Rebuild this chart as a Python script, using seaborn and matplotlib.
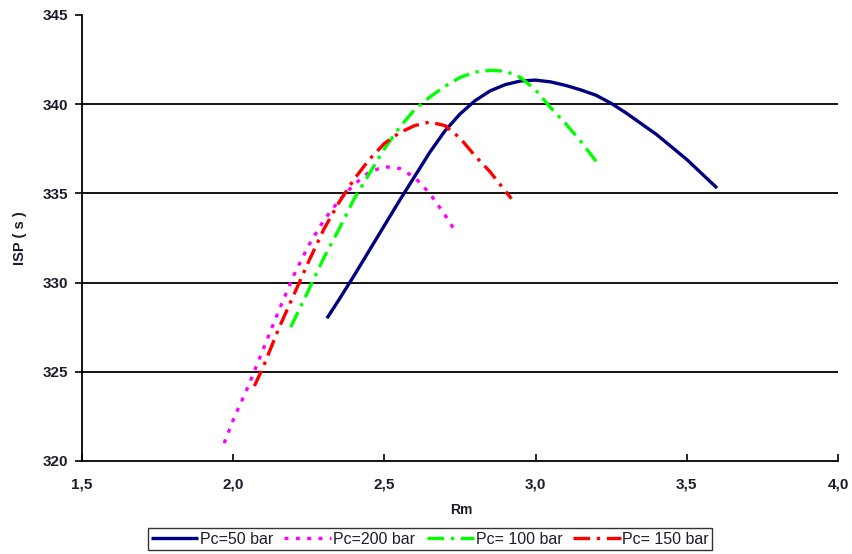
import matplotlib
matplotlib.use("Agg")
import matplotlib.pyplot as plt
import matplotlib.ticker as mticker
import seaborn as sns
import pandas as pd

# Specific impulse vs mixture ratio for four chamber pressures
rm_50 = [2.31, 2.35, 2.4, 2.45, 2.5, 2.55, 2.6, 2.65, 2.7, 2.75, 2.8, 2.85, 2.9, 2.95,
         3.0, 3.05, 3.1, 3.15, 3.2, 3.25, 3.3, 3.35, 3.4, 3.45, 3.5, 3.55, 3.6]
isp_50 = [328.0, 329.05, 330.4, 331.8, 333.2, 334.6, 335.95, 337.3, 338.5, 339.45, 340.2, 340.75, 341.1, 341.3,
          341.35, 341.25, 341.05, 340.8, 340.5, 340.05, 339.5, 338.9, 338.3, 337.6, 336.9, 336.1, 335.3]

rm_200 = [1.97, 2.0, 2.05, 2.1, 2.15, 2.2, 2.25, 2.3, 2.35, 2.4, 2.45, 2.5, 2.55, 2.6,
          2.65, 2.7, 2.73]
isp_200 = [321.0, 322.3, 324.2, 326.3, 328.4, 330.4, 332.1, 333.5, 334.6, 335.5, 336.2, 336.5, 336.4, 335.9,
           335.0, 333.8, 333.0]

rm_100 = [2.19, 2.25, 2.3, 2.35, 2.4, 2.45, 2.5, 2.55, 2.6, 2.65, 2.7, 2.75, 2.8, 2.85,
          2.9, 2.95, 3.0, 3.05, 3.1, 3.15, 3.2]
isp_100 = [327.5, 329.6, 331.4, 333.0, 334.7, 336.1, 337.5, 338.7, 339.7, 340.4, 341.0, 341.5, 341.8, 341.9,
           341.85, 341.5, 340.8, 339.8, 338.9, 337.9, 336.8]

rm_150 = [2.07, 2.1, 2.15, 2.2, 2.25, 2.3, 2.35, 2.4, 2.45, 2.5, 2.55, 2.6, 2.65, 2.7,
          2.75, 2.8, 2.85, 2.92]
isp_150 = [324.2, 325.3, 327.4, 329.3, 331.2, 333.0, 334.5, 335.8, 336.9, 337.8, 338.4, 338.8, 339.0, 338.8,
           338.1, 337.1, 336.2, 334.7]

labels = ["Pc=50 bar", "Pc=200 bar", "Pc= 100 bar", "Pc= 150 bar"]
colors = ["#000080", "#FF00FF", "#00FF00", "#FF0000"]
dash_styles = [None, (1.2, 2.2), (5.0, 2.0, 1.0, 2.0), (5.0, 2.0, 1.0, 2.0)]

sns.set_theme(style="white")
plt.rcParams["font.family"] = ["Liberation Sans", "DejaVu Sans"]

fig = plt.figure(figsize=(8.53, 5.54), dpi=100)
ax = fig.add_axes([82 / 853, 1 - 461 / 554, (838 - 82) / 853, (461 - 15) / 554])

series = [(rm_50, isp_50), (rm_200, isp_200), (rm_100, isp_100), (rm_150, isp_150)]
handles = []
for (xs, ys), lab, col, dsh in zip(series, labels, colors, dash_styles):
    df = pd.DataFrame({"Rm": xs, "ISP": ys})
    sns.lineplot(data=df, x="Rm", y="ISP", ax=ax, color=col, lw=2.4,
                 sort=False, estimator=None, label=lab, legend=False)
    line = ax.lines[-1]
    if dsh is not None:
        line.set_dashes(dsh)
    line.set_solid_capstyle("butt")
    line.set_dash_capstyle("butt")
    line.set_solid_joinstyle("round")
    handles.append(line)

ax.set_xlim(1.5, 4.0)
ax.set_ylim(320, 345)
ax.xaxis.set_major_locator(mticker.MultipleLocator(0.5))
ax.yaxis.set_major_locator(mticker.MultipleLocator(5))
ax.xaxis.set_major_formatter(mticker.FuncFormatter(lambda v, p: f"{v:.1f}".replace(".", ",")))
ax.yaxis.set_major_formatter(mticker.FuncFormatter(lambda v, p: f"{v:.0f}"))

for y in [325, 330, 335, 340]:
    ax.axhline(y, color="black", lw=1.3, zorder=0)

for side in ["top", "right"]:
    ax.spines[side].set_visible(False)
for side in ["left", "bottom"]:
    ax.spines[side].set_color("black")
    ax.spines[side].set_linewidth(1.3)

tick_color = "#1c1c2c"
ax.tick_params(axis="y", direction="out", length=5, width=1.2, color="black",
               left=True, labelsize=11, labelcolor=tick_color, pad=5)
ax.tick_params(axis="x", direction="in", length=5, width=1.2, color="black",
               bottom=True, labelsize=11, labelcolor=tick_color, pad=12)
for t in ax.get_xticklabels() + ax.get_yticklabels():
    t.set_fontweight("bold")

ax.set_xlabel("Rm", fontsize=10, fontweight="bold", color=tick_color)
ax.set_ylabel("ISP ( s )", fontsize=10.5, fontweight="bold", color=tick_color)
ax.xaxis.set_label_coords((461 - 82) / 756, (461 - 503) / 446)
ax.yaxis.set_label_coords((27 - 82) / 756, 0.5)

leg = fig.legend(handles=handles, labels=labels, loc="center", ncol=4,
                 bbox_to_anchor=(430 / 853, 1 - 539 / 554), frameon=True,
                 fontsize=11.5, handlelength=2.95, handletextpad=0.12, columnspacing=0.7,
                 borderpad=0.2, borderaxespad=0, fancybox=False, edgecolor="black")
leg.get_frame().set_linewidth(1.0)
for t in leg.get_texts():
    t.set_color(tick_color)

fig.savefig("out.png", dpi=100)
